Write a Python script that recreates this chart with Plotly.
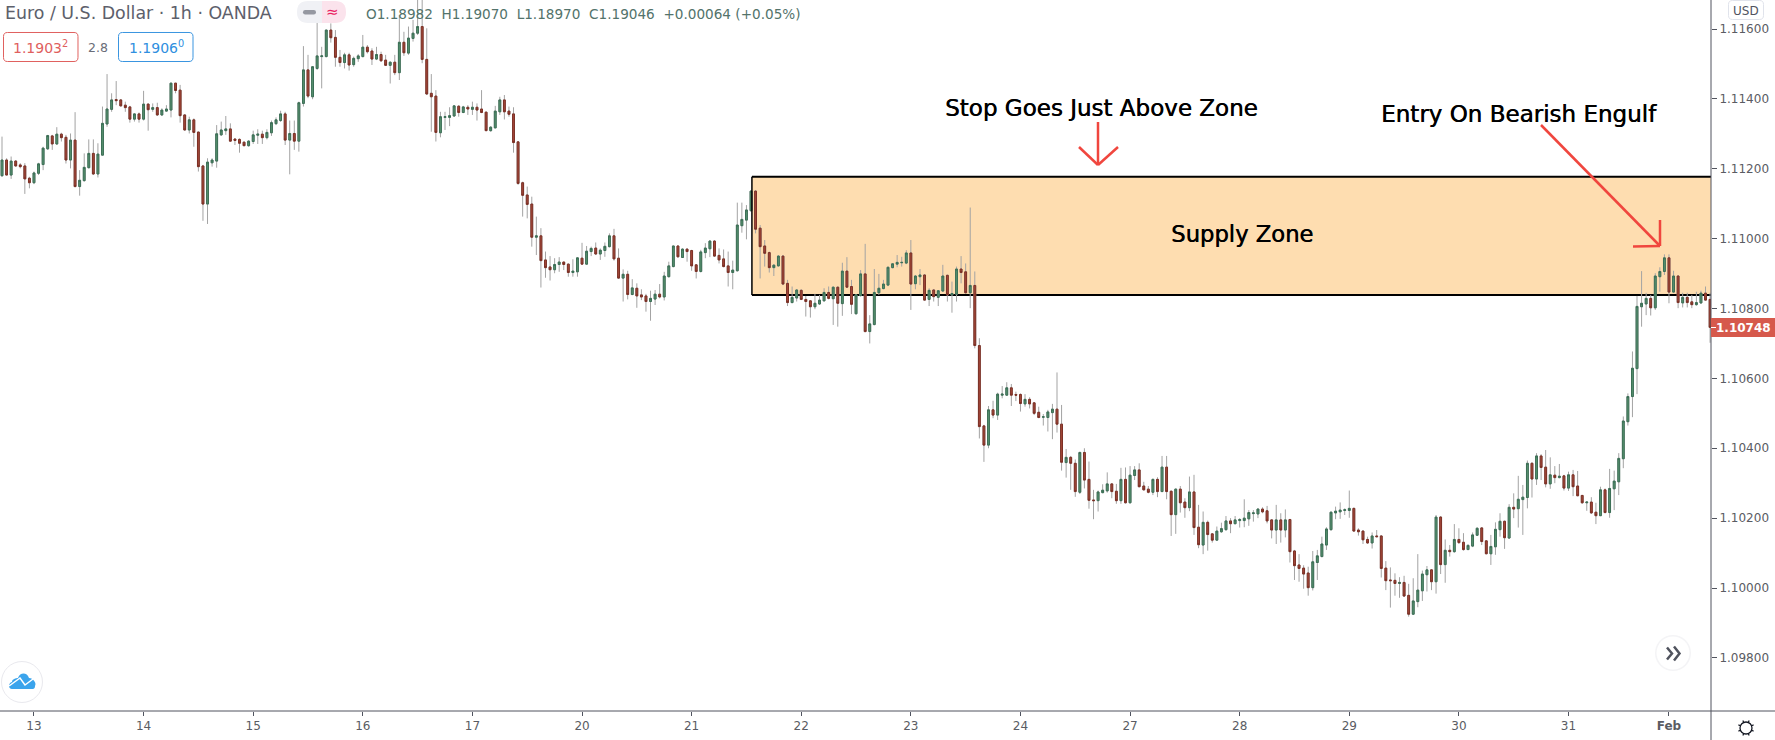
import math
import plotly.graph_objects as go

# ---- data (prices in 1e-5 above 1.10000) ----
direction = ("GRGRRRRGGG" "GRGRRGRGGG" "RGGGGRRRRG" "RGRGRGGGRR" "RGRRRGGGGG"
             "RRRRGGGRGG" "GGRGRGGRGG" "GGRRRGRGGG" "RRGRRGRGRG" "GGRRRRGGGG"
             "RGRGRRRGGG" "RRRRRRRGRR" "RGGRRGGRGG" "RGGGRRGRGR" "RRGGRGGGRG"
             "RRRGGGRRRR" "GGGGGRRRRG" "GRRGGRRRGG" "GRGRGRRGGR" "GGGGGGGGGR"
             "GGRGRGGRGG" "RRGRRRGRGG" "GRRRGRRRGG" "GRRGRRGRRR" "GGGRRGRGGR"
             "RRGRGRRGRR" "GRRGRRGGGR" "GGGGGGRRRG" "RGRRRRRGGG" "GGGGGGRRRR"
             "GRRRRRGRRG" "GGGRGRGRGR" "RGGGRRGGGR" "GRGGGRGRRG" "RGRGRRRGRR"
             "GRGGGGGGGG" "GRGGGRGRGR" "RGGRR")

body_top = [
    1225,1225,1222,1222,1211,1208,1173,1188,1214,1259,
    1295,1294,1299,1299,1290,1282,1282,1167,1204,1244,
    1244,1242,1330,1371,1397,1398,1397,1382,1377,1357,
    1357,1385,1385,1375,1375,1368,1371,1445,1445,1425,
    1354,1340,1340,1305,1208,1219,1225,1300,1311,1314,
    1314,1285,1284,1276,1279,1297,1299,1299,1304,1332,
    1340,1357,1357,1301,1301,1389,1483,1483,1492,1523,
    1523,1597,1597,1576,1519,1526,1526,1516,1523,1548,
    1548,1537,1527,1527,1511,1505,1505,1562,1562,1574,
    1588,1607,1607,1513,1416,1408,1349,1349,1352,1380,
    1379,1377,1376,1376,1376,1371,1362,1319,1365,1397,
    1397,1365,1357,1277,1160,1125,1099,1008,1008,939,
    919,926,933,933,927,907,945,944,964,972,
    973,967,978,1008,1008,944,898,898,859,858,
    839,836,829,841,841,893,922,979,979,970,
    970,966,925,962,973,993,993,952,942,922,
    910,1039,1055,1082,1136,1136,1030,979,960,924,
    950,950,872,832,853,852,826,822,815,824,
    846,846,861,861,907,907,863,839,899,899,
    756,846,858,870,918,928,932,932,959,959,
    893,896,896,852,853,851,893,895,843,913,
    913,905,866,866,694,464,510,510,555,555,
    573,573,554,554,540,540,530,503,490,504,
    512,512,469,374,374,357,388,388,311,252,
    275,280,298,298,277,311,311,323,338,338,
    292,283,311,311,346,346,277,283,283,246,
    275,275,174,188,188,155,163,170,192,192,
    195,196,200,216,215,226,226,221,195,195,
    195,195,196,106,66,57,43,75,92,126,
    169,217,220,223,224,228,228,166,163,139,
    149,149,149,57,23,22,16,16,-21,-37,
    -6,40,52,52,203,203,108,108,139,139,
    131,122,152,171,172,135,119,168,191,191,
    231,231,254,260,357,357,378,378,346,324,
    323,320,321,324,324,292,265,246,246,217,
    281,281,285,306,371,478,548,629,806,815,
    829,829,893,906,945,945,893,893,832,832,
    819,817,844,844,826,
]

body_bottom = [
    1180,1182,1182,1208,1206,1171,1160,1160,1187,1212,
    1257,1271,1271,1289,1225,1225,1149,1149,1166,1203,
    1185,1185,1239,1328,1370,1395,1380,1375,1342,1342,
    1342,1342,1369,1370,1354,1354,1365,1368,1424,1352,
    1311,1311,1304,1206,1099,1099,1217,1222,1297,1309,
    1279,1281,1273,1266,1266,1278,1296,1289,1289,1303,
    1329,1338,1282,1282,1279,1279,1387,1408,1406,1487,
    1521,1521,1575,1519,1504,1504,1497,1498,1515,1521,
    1535,1514,1514,1509,1496,1496,1475,1475,1532,1531,
    1573,1588,1513,1414,1406,1304,1303,1347,1347,1351,
    1361,1361,1371,1370,1368,1361,1309,1309,1317,1363,
    1363,1356,1275,1158,1124,1098,1004,1004,937,917,
    911,911,926,926,903,903,905,927,927,963,
    956,956,966,977,942,887,887,840,840,836,
    833,820,820,827,833,833,891,920,948,946,
    963,922,906,906,960,971,950,939,920,903,
    903,908,1037,1053,1080,1027,977,958,917,917,
    922,870,817,817,830,826,820,805,805,813,
    822,829,828,815,814,861,812,785,837,734,
    734,754,845,857,867,917,927,931,930,870,
    871,891,824,826,834,832,850,839,839,841,
    903,845,845,694,462,409,409,495,495,552,
    552,552,552,528,527,527,500,488,489,488,
    502,469,360,359,357,276,274,309,251,250,
    250,273,278,276,250,250,244,244,322,290,
    281,274,274,276,276,276,210,210,244,230,
    230,173,124,123,153,137,137,161,167,184,
    184,193,193,198,213,212,218,192,166,166,
    166,166,104,64,56,40,1,1,73,90,
    123,167,215,218,222,222,163,161,138,129,
    129,147,56,21,21,13,13,-23,-75,-75,
    -39,-8,38,18,18,67,67,104,104,130,
    110,110,120,151,133,98,98,118,167,144,
    143,226,227,253,259,312,312,345,298,298,
    316,316,286,286,290,264,244,244,215,207,
    207,216,216,284,304,370,476,548,628,805,
    813,802,802,891,906,847,847,817,816,817,
    811,811,816,824,746,
]

wick_high = [
    1292,1230,1235,1225,1216,1216,1177,1192,1217,1263,
    1297,1297,1319,1303,1297,1301,1362,1196,1244,1284,
    1284,1273,1378,1471,1416,1451,1399,1392,1380,1359,
    1361,1423,1387,1387,1389,1373,1382,1445,1445,1440,
    1356,1349,1344,1306,1211,1230,1230,1325,1335,1351,
    1330,1287,1287,1278,1282,1309,1313,1309,1313,1338,
    1347,1366,1363,1338,1338,1392,1551,1526,1494,1635,
    1549,1597,1616,1597,1540,1532,1532,1521,1528,1583,
    1554,1545,1549,1535,1526,1507,1526,1640,1592,1607,
    1626,1690,1690,1602,1471,1425,1363,1363,1376,1382,
    1382,1380,1382,1392,1387,1425,1363,1322,1380,1406,
    1411,1378,1376,1278,1163,1149,1120,1063,1030,963,
    950,944,947,933,929,941,947,988,979,977,
    989,972,989,1015,1028,972,912,908,884,872,
    855,842,851,853,870,905,934,979,979,972,
    972,968,927,968,987,996,996,972,969,963,
    937,1103,1103,1096,1139,1139,1039,996,963,927,
    953,953,882,863,855,855,836,823,842,839,
    858,863,863,863,931,947,882,841,910,985,
    781,913,899,882,920,929,953,948,967,996,
    896,913,898,858,855,853,925,897,877,920,
    950,929,1089,906,715,467,521,536,559,578,
    589,584,562,557,555,546,532,519,498,510,
    527,617,524,398,378,368,390,400,362,281,
    279,297,331,300,298,344,345,349,349,357,
    304,292,313,317,378,378,279,285,292,257,
    319,324,238,219,193,157,176,187,206,200,
    206,200,254,223,223,228,231,235,197,238,
    214,225,198,109,97,65,61,106,109,147,
    174,219,233,245,228,279,230,171,165,147,
    159,166,151,77,59,42,31,35,12,28,
    97,50,63,54,209,206,139,123,183,171,
    157,125,159,174,174,137,152,188,214,193,
    240,271,321,295,365,360,386,383,395,374,
    349,355,324,333,338,335,266,246,260,244,
    290,285,341,336,386,491,557,677,836,907,
    845,839,901,918,955,955,908,895,845,845,
    839,848,851,863,845,
]

wick_low = [
    1177,1182,1171,1206,1201,1128,1144,1156,1182,1196,
    1254,1254,1268,1278,1215,1201,1147,1123,1163,1201,
    1182,1175,1239,1320,1363,1382,1378,1363,1332,1335,
    1332,1338,1309,1363,1351,1351,1363,1347,1416,1332,
    1309,1301,1263,1192,1051,1042,1206,1203,1294,1297,
    1278,1268,1246,1265,1263,1271,1271,1271,1284,1294,
    1325,1334,1268,1184,1254,1249,1378,1402,1399,1483,
    1430,1519,1561,1492,1492,1487,1481,1492,1506,1519,
    1530,1497,1511,1506,1494,1444,1468,1454,1523,1526,
    1564,1583,1502,1411,1306,1278,1290,1311,1322,1349,
    1349,1359,1354,1354,1338,1359,1308,1306,1316,1354,
    1341,1349,1246,1154,1063,1058,977,953,860,888,
    880,901,905,910,891,891,891,925,925,950,
    953,939,948,975,937,885,820,826,838,802,
    824,791,765,810,829,823,889,918,946,945,
    934,908,886,903,944,947,948,929,918,863,
    855,906,1017,998,1077,1015,886,920,903,893,
    920,867,807,815,820,824,777,774,798,810,
    820,826,753,748,779,859,784,783,834,732,
    700,752,839,855,864,915,918,920,927,796,
    855,867,823,807,820,807,848,820,788,820,
    872,843,801,686,428,361,400,486,481,543,
    551,521,535,505,519,514,495,486,465,448,
    426,445,336,316,281,261,269,285,227,197,
    219,271,273,257,241,241,242,242,309,288,
    279,271,266,260,275,254,149,155,216,201,
    220,152,114,97,107,130,136,158,164,157,
    183,173,174,178,190,200,214,185,142,126,
    130,145,73,23,18,-2,-22,-7,23,88,
    109,164,197,198,209,201,161,150,126,126,
    113,145,30,-6,-56,-22,-28,-25,-82,-77,
    -55,-37,-10,-6,-16,40,15,90,101,126,
    107,109,117,149,123,97,66,95,147,112,
    141,200,173,152,228,259,295,309,288,284,
    300,314,279,278,263,263,241,221,212,183,
    207,214,201,223,266,343,465,489,555,748,
    781,780,796,848,896,815,845,801,803,803,
    801,808,813,823,702,
]

day_positions = [7, 31, 55, 79, 103, 127, 151, 175, 199, 223, 247, 271, 295, 319, 343, 365]
day_labels = ["13", "14", "15", "16", "17", "20", "21", "22", "23", "24",
              "27", "28", "29", "30", "31", "<b>Feb</b>"]
price_ticks = [1.098, 1.100, 1.102, 1.104, 1.106, 1.108, 1.110, 1.112, 1.114, 1.116]
zone_top = 1.11177
zone_bottom = 1.10839
zone_start = 164.2

# ---- derived ----
BASE, UNIT = 1.1, 1e-5
def price(v):
    return BASE + v * UNIT

n = len(direction)
idx = list(range(n))
t = [price(v) for v in body_top]
b = [price(v) for v in body_bottom]
hi = [price(v) for v in wick_high]
lo = [price(v) for v in wick_low]
opens = [b[i] if direction[i] == "G" else t[i] for i in idx]
closes = [t[i] if direction[i] == "G" else b[i] for i in idx]

# ---- page geometry ----
W, H = 1775, 740
PW, PH = 1711, 711
AXIS = "#50535e"
FONT = "DejaVu Sans"
RED = "#f0463e"
def xp(x):
    return x / PW
def yp(y):
    return 1 - y / PH

fig = go.Figure()
fig.add_trace(go.Candlestick(
    x=idx, open=opens, high=hi, low=lo, close=closes, whiskerwidth=0,
    increasing=dict(line=dict(color="#a3a3a3", width=1), fillcolor="rgba(0,0,0,0)"),
    decreasing=dict(line=dict(color="#a3a3a3", width=1), fillcolor="rgba(0,0,0,0)"),
    hoverinfo="skip", showlegend=False))
fig.add_trace(go.Candlestick(
    x=idx, open=opens, close=closes, whiskerwidth=0,
    high=[max(o, c) for o, c in zip(opens, closes)],
    low=[min(o, c) for o, c in zip(opens, closes)],
    increasing=dict(line=dict(color="#3b6f56", width=1), fillcolor="#58926f"),
    decreasing=dict(line=dict(color="#7c3025", width=1), fillcolor="#a5483a"),
    showlegend=False))

shapes = []
def line(x0, y0, x1, y1, color=RED, width=2.5):
    shapes.append(dict(type="line", xref="paper", yref="paper", x0=xp(x0), y0=yp(y0),
                       x1=xp(x1), y1=yp(y1), line=dict(color=color, width=width), layer="above"))
def path(cmds, fill=None, color=None, width=1):
    out = []
    for c in cmds:
        if isinstance(c, str):
            out.append(c)
        else:
            out.append(f"{xp(c[0]):.6f},{yp(c[1]):.6f}")
    d = dict(type="path", xref="paper", yref="paper", path=" ".join(out), layer="above",
             line=dict(color=color or "rgba(0,0,0,0)", width=width if color else 0))
    if fill:
        d["fillcolor"] = fill
    shapes.append(d)
def rrect(x0, y0, x1, y1, r, fill=None, color=None, width=1):
    path(["M", (x0 + r, y0), "L", (x1 - r, y0), "Q", (x1, y0), (x1, y0 + r),
          "L", (x1, y1 - r), "Q", (x1, y1), (x1 - r, y1), "L", (x0 + r, y1),
          "Q", (x0, y1), (x0, y1 - r), "L", (x0, y0 + r), "Q", (x0, y0), (x0 + r, y0), "Z"],
         fill, color, width)
def circle(cx, cy, r, fill=None, color=None, width=1):
    shapes.append(dict(type="circle", xref="paper", yref="paper", x0=xp(cx - r), x1=xp(cx + r),
                       y0=yp(cy + r), y1=yp(cy - r), fillcolor=fill or "rgba(0,0,0,0)", layer="above",
                       line=dict(color=color or "rgba(0,0,0,0)", width=width)))

# supply zone (under the candles)
zone_x1 = n - 1 + 0.2
shapes.append(dict(type="rect", xref="x", yref="y", x0=zone_start, x1=zone_x1, y0=zone_bottom, y1=zone_top,
                   fillcolor="#feddb0", line=dict(width=0), layer="below"))
for (a, c, e, f) in [(zone_start, zone_top, zone_x1, zone_top), (zone_start, zone_bottom, zone_x1, zone_bottom)]:
    shapes.append(dict(type="line", xref="x", yref="y", x0=a, y0=c, x1=e, y1=f,
                       line=dict(color="#000000", width=2), layer="below"))
shapes.append(dict(type="line", xref="x", yref="y", x0=zone_start, y0=zone_bottom, x1=zone_start, y1=zone_top,
                   line=dict(color="#000000", width=1.5), layer="above"))

# chart frame lines
line(PW, 0, PW, H, AXIS, 1)
line(0, PH, W, PH, AXIS, 1)

# red arrows
line(1098, 122, 1098, 165)
line(1079, 147, 1098, 165)
line(1118, 147, 1098, 165)
line(1541, 125, 1660, 246)
line(1633, 246.5, 1660, 246)
line(1660, 220, 1660, 246)

# legend pill
path(["M", (308, 1), "L", (322, 1), "L", (322, 23), "L", (308, 23), "Q", (297, 23), (297, 12),
      "Q", (297, 1), (308, 1), "Z"], "#f0f1f5")
path(["M", (322, 1), "L", (335, 1), "Q", (346, 1), (346, 12), "Q", (346, 23), (335, 23),
      "L", (322, 23), "Z"], "#fbe3ec")
rrect(303, 10, 316, 14.5, 2.2, "#9598a1")

# bid / ask boxes
rrect(3.5, 32.5, 78, 61.5, 4, "rgba(255,255,255,0.9)", "#e0615f", 1)
rrect(118.5, 32.5, 193, 61.5, 4, "rgba(255,255,255,0.9)", "#3a95e0", 1)

# USD + last price tag
rrect(1728.5, 0.5, 1763.5, 19.5, 4, "#ffffff", "#e0e3eb", 1)
path(["M", (PW, 318), "L", (W, 318), "L", (W, 337), "L", (PW, 337), "Z"], "#d6594c")
line(PW, 327.5, PW + 5, 327.5, "#ffffff", 1)

# logo
circle(22, 682, 20.5, "#ffffff", "#e9e9ee", 1)
path(["M", (12, 689), "C", (8, 689), (8, 683), (12, 682), "C", (12, 679), (16, 678), (18, 678),
      "C", (20, 672), (27, 672), (29, 678), "C", (33, 678), (37, 683), (35, 686),
      "C", (35, 689), (33, 689), (32, 689), "Z"], "#3ba4ec")
path(["M", (9, 686), "L", (20, 678), "L", (25, 685), "L", (33, 679)], None, "#ffffff", 1.5)

# scroll button
circle(1673, 653, 18, "#f4f4f6", None)
circle(1673, 653, 16.5, "#ffffff", None)
path(["M", (1667, 647.5), "L", (1672, 653.5), "L", (1667, 659.5)], None, "#50535e", 2.5)
path(["M", (1674, 646.5), "L", (1679.5, 653.5), "L", (1674, 660.5)], None, "#50535e", 2.5)

# settings gear
circle(1746, 728, 6, None, "#131722", 1.3)
for a in range(0, 360, 45):
    ca, sa = math.cos(math.radians(a + 22.5)), math.sin(math.radians(a + 22.5))
    line(1746 + 6 * ca, 728 + 6 * sa, 1746 + 8.2 * ca, 728 + 8.2 * sa, "#131722", 1.2)

notes = []
def text(x, y, s, size, color, anchor="center", family=FONT, shadow=None):
    font = dict(family=family, size=size, color=color)
    if shadow:
        font["shadow"] = shadow
    notes.append(dict(text=s, x=xp(x), y=yp(y), xref="paper", yref="paper", showarrow=False,
                      xanchor=anchor, yanchor="middle", align="left", font=font))

HEAVY = "0.5px 0 0 #000000"
text(1101, 108, "Stop Goes Just Above Zone", 23, "#000000", shadow=HEAVY)
text(1242, 234, "Supply Zone", 22.7, "#000000", shadow=HEAVY)
text(1519, 114, "Entry On Bearish Engulf", 23, "#000000", shadow=HEAVY)
text(3, 13, "Euro / U.S. Dollar · 1h · OANDA", 17.4, "#5d606b", "left")
text(332, 12, "≈", 15, "#e91e63")
text(364, 14, "O1.18982\u00a0\u00a0H1.19070\u00a0\u00a0L1.18970\u00a0\u00a0C1.19046\u00a0\u00a0+0.00064\u00a0(+0.05%)",
     13.6, "#53736b", "left")
text(40.5, 47, "1.1903<sup>2</sup>", 14, "#e0605e")
text(98, 48, "2.8", 12.5, "#6a6d78")
text(156, 47, "1.1906<sup>0</sup>", 14, "#2f8fe0")
text(1746, 11, "USD", 12, "#50535e")
text(1744, 327.5, "<b>1.10748</b>", 12, "#ffffff")

fig.update_layout(
    width=W, height=H, margin=dict(l=0, r=W - PW, t=0, b=H - PH),
    paper_bgcolor="#ffffff", plot_bgcolor="#ffffff", showlegend=False, boxgap=0.42,
    shapes=shapes, annotations=notes,
    xaxis=dict(range=[-0.44, 374.2], rangeslider=dict(visible=False), showgrid=False, zeroline=False,
               tickmode="array", tickvals=day_positions, ticktext=day_labels,
               ticks="outside", ticklen=4, tickcolor=AXIS, showline=False,
               tickfont=dict(family=FONT, size=12, color="#5a5c63")),
    yaxis=dict(side="right", range=[1.09648, 1.11683], showgrid=False, zeroline=False,
               tickmode="array", tickvals=price_ticks, ticktext=[f"{p:.5f}" for p in price_ticks],
               ticks="outside", ticklen=5, tickcolor=AXIS, showline=False,
               tickfont=dict(family=FONT, size=12, color="#5a5c63")),
)

fig.write_html("out.html", config=dict(displayModeBar=False),
               post_script="document.body.style.margin='0';document.body.style.overflow='hidden';")
